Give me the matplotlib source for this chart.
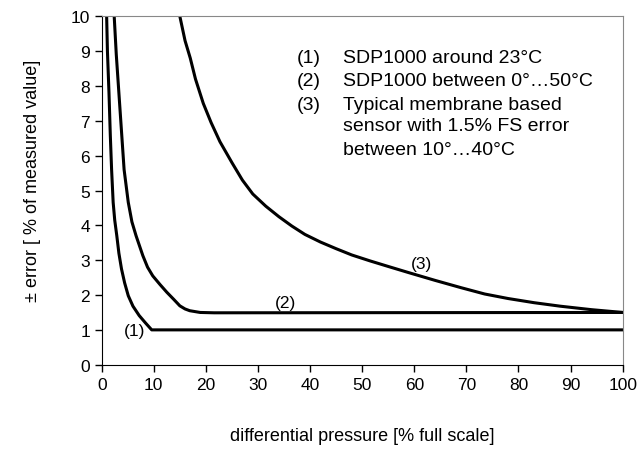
import matplotlib
matplotlib.use('Agg')
import matplotlib.pyplot as plt

plt.rcParams['font.family'] = ['Liberation Sans', 'DejaVu Sans']

# curve (1): SDP1000 around 23 C
x1 = [0.95, 1.1, 1.4, 1.65, 1.9, 2.2, 2.5, 2.9, 3.3, 3.8, 4.4, 5.1, 6.0, 7.2, 8.4, 9.6, 100]
y1 = [10, 9.0, 7.8, 6.6, 5.6, 4.66, 4.15, 3.7, 3.2, 2.75, 2.35, 1.98, 1.68, 1.41, 1.2, 1.0, 1.0]

# curve (2): SDP1000 between 0...50 C
x2 = [2.4, 2.8, 3.3, 3.8, 4.3, 5.1, 5.8, 6.6, 7.9, 8.8, 9.8, 11.2, 12.5, 13.8, 15.0, 16.0,
      16.9, 18.9, 21.6, 100]
y2 = [10, 8.9, 7.8, 6.7, 5.6, 4.66, 4.1, 3.7, 3.13, 2.8, 2.55, 2.3, 2.08, 1.88, 1.69, 1.6,
      1.55, 1.5, 1.49, 1.5]

# curve (3): membrane sensor, 1.5% FS
x3 = [15, 16, 17, 18, 19.5, 21, 22.7, 25, 27, 29, 31.5, 34, 36.5, 39, 42, 45, 48, 51.5,
      55, 59, 64, 69, 73.5, 78, 83, 88, 94, 100]
y3 = [10, 9.3, 8.8, 8.2, 7.5, 6.95, 6.4, 5.8, 5.3, 4.9, 4.55, 4.25, 3.98, 3.74, 3.52,
      3.33, 3.15, 2.98, 2.82, 2.64, 2.42, 2.21, 2.03, 1.9, 1.78, 1.68, 1.58, 1.5]

legend_num = ['(1)', '(2)', '(3)', '', '']
legend_txt = ['SDP1000 around 23°C', 'SDP1000 between 0°…50°C',
              'Typical membrane based', 'sensor with 1.5% FS error', 'between 10°…40°C']
legend_y = [8.82, 8.15, 7.48, 6.86, 6.19]

fig = plt.figure(figsize=(6.38, 4.52), dpi=100)
ax = fig.add_axes([0.1594, 0.1909, 0.8166, 0.7708])

for x, y in [(x1, y1), (x2, y2), (x3, y3)]:
    ax.plot(x, y, color='black', lw=2.2, solid_joinstyle='round')

ax.set_xlim(0, 100)
ax.set_ylim(0, 10)
ax.set_xticks(range(0, 101, 10))
ax.set_yticks(range(0, 11))
ax.tick_params(direction='out', length=5, width=1, labelsize=12.5, color='black')
for s in ['left', 'bottom']:
    ax.spines[s].set_color('black')
for s in ['top', 'right']:
    ax.spines[s].set_color('#888888')

ax.text(6.4, 0.97, '(1)', fontsize=12.5, ha='center', va='center')
ax.text(35.2, 1.8, '(2)', fontsize=12.5, ha='center', va='center')
ax.text(61.4, 2.9, '(3)', fontsize=12.5, ha='center', va='center')

for n, t, yy in zip(legend_num, legend_txt, legend_y):
    if n:
        ax.text(37.4, yy, n, fontsize=14, va='center', ha='left')
    ax.text(46.4, yy, t, fontsize=14, va='center', ha='left')

ax.set_xlabel('differential pressure [% full scale]', fontsize=13, va='center')
ax.set_ylabel('± error [ % of measured value]', fontsize=13, va='center')
ax.xaxis.set_label_coords(0.5, -0.2046)
ax.yaxis.set_label_coords(-0.132, 0.53)

fig.savefig('out.png', dpi=100)
